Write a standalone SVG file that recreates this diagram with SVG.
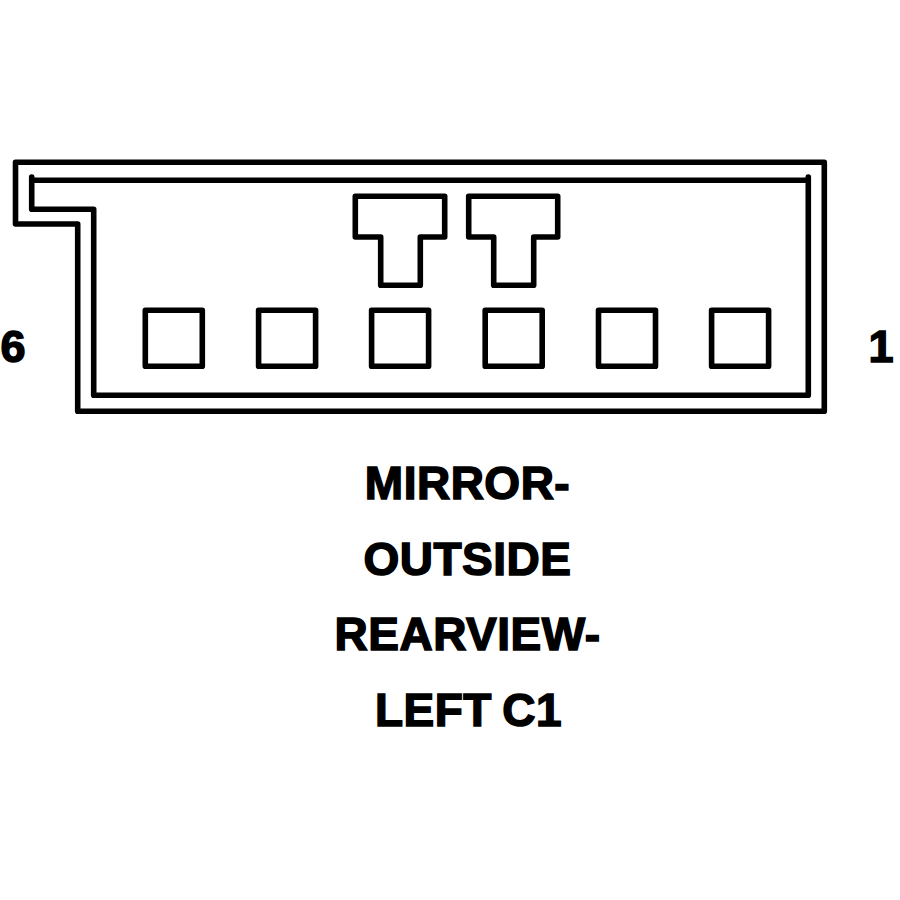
<svg xmlns="http://www.w3.org/2000/svg" width="900" height="900" viewBox="0 0 900 900">
<style>
.l{fill:none;stroke:#000;stroke-width:5.6;stroke-linejoin:round;stroke-linecap:round}
text{font-family:"Liberation Sans",Arial,sans-serif;font-weight:700;font-size:46px;letter-spacing:.5px;fill:#000;stroke:#000;stroke-width:1.5;text-anchor:middle}
.n{font-size:45px;letter-spacing:0}
</style>
<rect width="900" height="900" fill="#fff"/>
<g id="housing">
<path class="l" d="M15.5 162.3H824.3V411.3H77.7V224H15.5Z"/>
<path class="l" d="M31.7 177V209.3H93.7V395.3H808.3V177M31.7 180.3H808.3"/>
</g>
<g id="key-1"><path class="l" d="M355.3 196.3H444.7V237H420.3V285.3H380.7V237H355.3Z"/></g>
<g id="key-2"><path class="l" d="M468.7 196.3H557.7V237H533.7V285.3H493.7V237H468.7Z"/></g>
<g id="pin-6"><rect class="l" x="145.3" y="310.3" width="57" height="56"/></g>
<g id="pin-5"><rect class="l" x="258.6" y="310.3" width="57" height="56"/></g>
<g id="pin-4"><rect class="l" x="371.6" y="310.3" width="57" height="56"/></g>
<g id="pin-3"><rect class="l" x="485.2" y="310.3" width="57" height="56"/></g>
<g id="pin-2"><rect class="l" x="598.5" y="310.3" width="57" height="56"/></g>
<g id="pin-1"><rect class="l" x="711.6" y="310.3" width="57" height="56"/></g>
<g id="labels">
<text class="n" x="13" y="362">6</text>
<text class="n" x="881" y="362">1</text>
<text x="467.5" y="498.5">MIRROR-</text>
<text x="467.5" y="574.5">OUTSIDE</text>
<text x="467.5" y="650">REARVIEW-</text>
<text x="468.5" y="725.5" word-spacing="-3">LEFT C1</text>
</g>
</svg>
